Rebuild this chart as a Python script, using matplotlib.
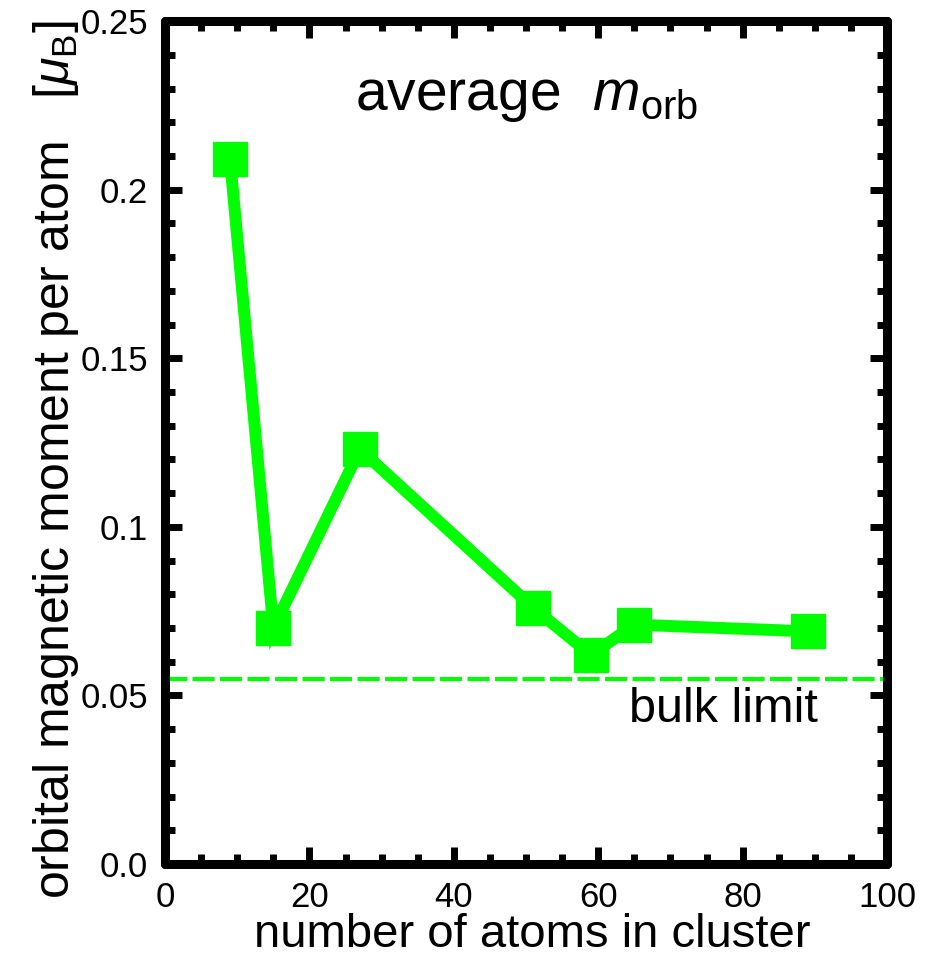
import matplotlib
matplotlib.use("Agg")
import matplotlib.pyplot as plt
from matplotlib.ticker import MultipleLocator, FixedLocator, FixedFormatter

# data
n_atoms = [9, 15, 27, 51, 59, 65, 89]
m_orb = [0.209, 0.070, 0.123, 0.076, 0.062, 0.071, 0.069]
bulk_limit = 0.055
y_ticks = [0.0, 0.05, 0.1, 0.15, 0.2, 0.25]
y_tick_labels = ["0.0", "0.05", "0.1", "0.15", "0.2", "0.25"]

plt.rcParams["font.family"] = "Liberation Sans"
plt.rcParams["mathtext.fontset"] = "custom"
plt.rcParams["mathtext.rm"] = "Liberation Sans"
plt.rcParams["mathtext.it"] = "Liberation Sans:italic"

green = "#00ff00"

fig = plt.figure(figsize=(9.34, 9.6), dpi=100)
ax = fig.add_axes([0.1767, 0.1, 0.773, 0.878])

ax.plot(n_atoms, m_orb, color=green, lw=8.6, marker="s", markersize=24.5,
        solid_joinstyle="miter", zorder=3)
ax.axhline(bulk_limit, color=green, lw=3, dashes=(5.3, 1.3), zorder=2)

ax.set_xlim(0, 100)
ax.set_ylim(0, 0.25)

ax.xaxis.set_major_locator(MultipleLocator(20))
ax.xaxis.set_minor_locator(MultipleLocator(5))
ax.yaxis.set_major_locator(FixedLocator(y_ticks))
ax.yaxis.set_major_formatter(FixedFormatter(y_tick_labels))
ax.yaxis.set_minor_locator(MultipleLocator(0.01))

ax.tick_params(which="both", direction="in", top=True, right=True, width=5)
ax.tick_params(which="major", length=12, labelsize=25, pad=12)
ax.tick_params(which="minor", length=7)

for sp in ax.spines.values():
    sp.set_linewidth(6.5)
    sp.set_capstyle("round")

ax.set_xlabel("number of atoms in cluster", fontsize=34)
ax.xaxis.set_label_coords(0.508, -0.058)
ax.set_ylabel(r"orbital magnetic moment per atom   [$\mu_{\mathrm{B}}$]", fontsize=36)
ax.yaxis.set_label_coords(-0.117, 0.48)

ax.text(0.5, 0.91, r"average  $m_{\mathrm{orb}}$", transform=ax.transAxes,
        ha="center", va="center", fontsize=41)
ax.text(0.774, 0.183, "bulk limit", transform=ax.transAxes,
        ha="center", va="center", fontsize=35)

fig.savefig("out.png", dpi=100)
